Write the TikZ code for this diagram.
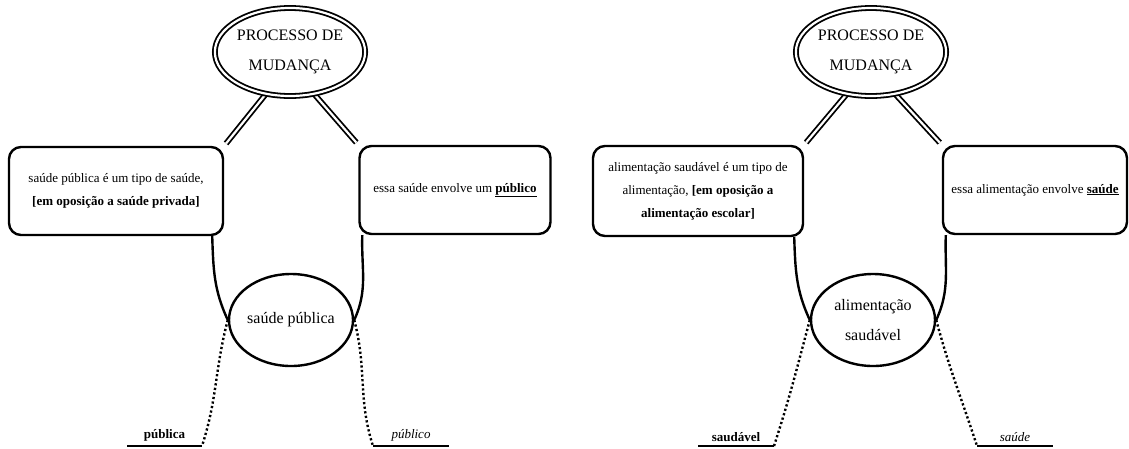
\documentclass[tikz,border=0pt]{standalone}
\usepackage{fontspec}
\setmainfont{Liberation Serif}
\usetikzlibrary{shapes.geometric,backgrounds}

\begin{document}
\begin{tikzpicture}[
  x=1pt, y=-1pt,
  core/.style={ellipse, draw, fill=white, double, line width=1.8pt, double distance=2.2pt,
    inner sep=0pt, minimum width=147pt, minimum height=88pt, align=center,
    font=\fontsize{16}{30}\selectfont},
  term/.style={ellipse, draw, fill=white, line width=2.4pt, inner sep=0pt,
    minimum width=124pt, minimum height=92pt, align=center,
    font=\fontsize{16}{30}\selectfont},
  card/.style={rectangle, draw, fill=white, rounded corners=12pt, line width=2.4pt,
    inner sep=0pt, minimum height=88pt, align=center,
    font=\fontsize{13}{23}\selectfont},
  tie/.style={double, line width=1.8pt, double distance=2.2pt, shorten >=3pt},
  flow/.style={line width=2.4pt},
  hint/.style={line width=2.4pt, dash pattern=on 2.2pt off 2.4pt},
  base/.style={line width=2.6pt},
  word/.style={font=\fontsize{13}{15}\selectfont, inner sep=3pt}
]
  \useasboundingbox (0,0) rectangle (1129,448);

  % saude publica
  \node[core] (core1) at (290,52) {PROCESSO DE\\MUDANÇA};
  \node[card, minimum width=214pt] (part1) at (116,191)
    {saúde pública é um tipo de saúde,\\\textbf{[em oposição a saúde privada]}};
  \node[card, minimum width=191pt] (whole1) at (455,190)
    {essa saúde envolve um \underline{\textbf{público}}};
  \node[term] (term1) at (291,320) {saúde pública};
  \coordinate (a1) at (127,446);
  \coordinate (b1) at (202,446);
  \coordinate (c1) at (373,446);
  \coordinate (d1) at (449,446);

  % alimentacao saudavel
  \node[core] (core2) at (871,52) {PROCESSO DE\\MUDANÇA};
  \node[card, minimum width=210pt, minimum height=90pt] (part2) at (698,191)
    {alimentação saudável é um tipo de\\alimentação, \textbf{[em oposição a}\\\textbf{alimentação escolar]}};
  \node[card, minimum width=184pt] (whole2) at (1035,190)
    {essa alimentação envolve \underline{\textbf{saúde}}};
  \node[term] (term2) at (873,320) {alimentação\\saudável};
  \coordinate (a2) at (698,446);
  \coordinate (b2) at (774,446);
  \coordinate (c2) at (977,446);
  \coordinate (d2) at (1053,446);

  \begin{scope}[on background layer]
    \draw[tie] (core1.240) -- (part1.north east);
    \draw[tie] (core1.300) -- (whole1.north west);
    \draw[flow] ([xshift=-12pt]part1.south east) to[out=-88,in=115] (term1.west);
    \draw[flow] ([xshift=4pt]whole1.south west) to[out=-92,in=65] (term1.east);

    \draw[tie] (core2.240) -- (part2.north east);
    \draw[tie] (core2.300) -- (whole2.north west);
    \draw[flow] ([xshift=-10pt]part2.south east) to[out=-88,in=115] (term2.west);
    \draw[flow] ([xshift=4pt]whole2.south west) to[out=-92,in=65] (term2.east);
  \end{scope}

  \draw[hint] (term1.west) to[out=-105,in=72] (b1);
  \draw[hint] (term1.east) to[out=-75,in=108] (c1);
  \draw[base] (a1) -- node[word, above] {\textbf{pública}} (b1);
  \draw[base] (c1) -- node[word, above] {\textit{público}} (d1);

  \draw[hint] (term2.west) to[out=-105,in=72] (b2);
  \draw[hint] (term2.east) to[out=-75,in=108] (c2);
  \draw[base] (a2) -- node[word, above] {\textbf{saudável}} (b2);
  \draw[base] (c2) -- node[word, above] {\textit{saúde}} (d2);
\end{tikzpicture}
\end{document}
